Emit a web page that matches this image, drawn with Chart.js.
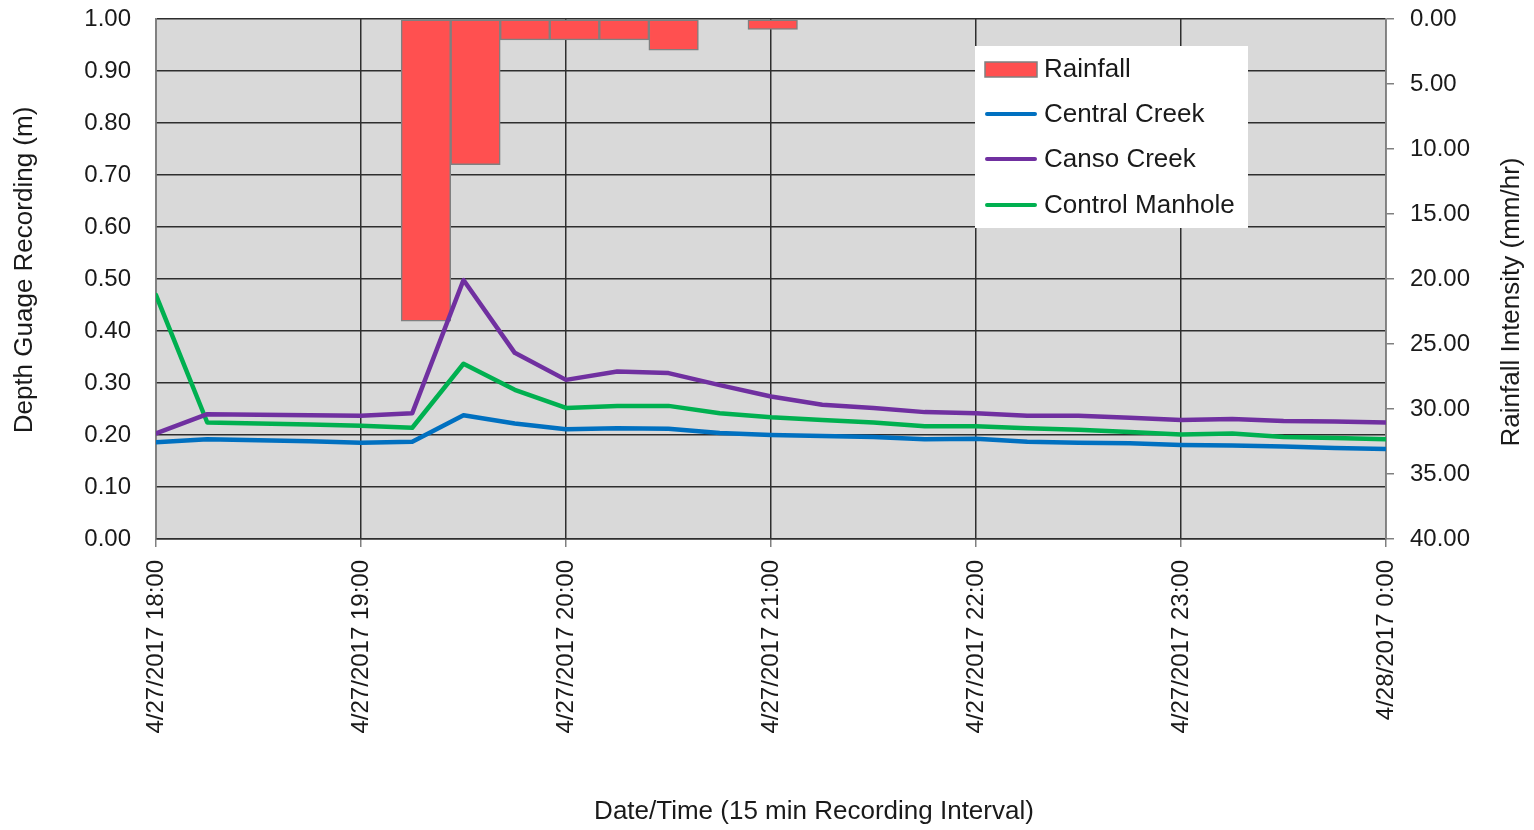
<!DOCTYPE html>
<html>
<head>
<meta charset="utf-8">
<script src="https://cdn.jsdelivr.net/npm/chart.js@4.4.1/dist/chart.umd.min.js"></script>
<style>
html,body{margin:0;padding:0;background:#ffffff;overflow:hidden}
canvas{display:block}
</style>
</head>
<body>
<canvas id="c" width="1534" height="830"></canvas>
<script>
// ---- data (minutes after 4/27/2017 18:00, 15 min recording interval) ----
const timeMinutes = [0,15,30,45,60,75,90,105,120,135,150,165,180,195,210,225,240,255,270,285,300,315,330,345,360];
const centralCreek = [0.186,0.192,0.190,0.188,0.185,0.187,0.238,0.222,0.211,0.213,0.212,0.204,0.200,0.198,0.196,0.192,0.193,0.187,0.185,0.184,0.181,0.180,0.178,0.175,0.173];
const cansoCreek = [0.203,0.240,0.239,0.238,0.237,0.242,0.498,0.358,0.306,0.322,0.319,0.296,0.274,0.258,0.252,0.244,0.242,0.237,0.237,0.233,0.229,0.231,0.227,0.226,0.224];
const controlManhole = [0.469,0.224,0.222,0.220,0.218,0.214,0.337,0.287,0.252,0.256,0.256,0.242,0.234,0.229,0.224,0.217,0.217,0.213,0.210,0.206,0.201,0.203,0.196,0.194,0.192];
const rainTimes = [79,93.5,108,122.5,137,151.5,180.5];
const rainIntensity = [23.25,11.2,1.6,1.6,1.6,2.4,0.8];
const xTickLabels = ['4/27/2017 18:00','4/27/2017 19:00','4/27/2017 20:00','4/27/2017 21:00','4/27/2017 22:00','4/27/2017 23:00','4/28/2017 0:00'];
const seriesLabels = ['Rainfall','Central Creek','Canso Creek','Control Manhole'];
const leftTitle = 'Depth Guage Recording (m)';
const rightTitle = 'Rainfall Intensity (mm/hr)';
const bottomTitle = 'Date/Time (15 min Recording Interval)';

const FONT = "'Liberation Sans', Arial, sans-serif";
Chart.defaults.font.family = FONT;
Chart.defaults.color = '#1a1a1a';

const pts = (xs, ys) => xs.map((x, i) => ({x: x, y: ys[i]}));

const plotBg = {
  id: 'plotBg',
  beforeDraw(chart) {
    const a = chart.chartArea, c = chart.ctx;
    c.save();
    c.fillStyle = '#d9d9d9';
    c.fillRect(a.left, a.top, a.right - a.left, a.bottom - a.top);
    c.restore();
  }
};

const titles = {
  id: 'titles',
  afterDraw(chart) {
    const c = chart.ctx;
    c.save();
    c.fillStyle = '#1a1a1a';
    c.font = '26px ' + FONT;
    c.textAlign = 'center';
    c.textBaseline = 'middle';
    c.save(); c.translate(25, 270); c.rotate(-Math.PI / 2); c.fillText(leftTitle, 0, 0); c.restore();
    c.save(); c.translate(1512, 302); c.rotate(-Math.PI / 2); c.fillText(rightTitle, 0, 0); c.restore();
    c.fillText(bottomTitle, 814, 812);
    c.restore();
  }
};

const boxLegend = {
  id: 'boxLegend',
  afterDraw(chart) {
    const c = chart.ctx;
    c.save();
    c.fillStyle = '#ffffff';
    c.fillRect(975, 46, 273, 182);
    const rows = [69, 114, 159, 205];
    chart.data.datasets.forEach((ds, i) => {
      const y = rows[i];
      if (ds.type === 'bar') {
        c.fillStyle = ds.backgroundColor;
        c.fillRect(985, y - 7, 52, 15);
        c.strokeStyle = ds.borderColor;
        c.lineWidth = 1.5;
        c.strokeRect(985, y - 7, 52, 15);
      } else {
        c.strokeStyle = ds.borderColor;
        c.lineWidth = 4;
        c.lineCap = 'round';
        c.beginPath(); c.moveTo(987, y); c.lineTo(1035, y); c.stroke();
      }
      c.fillStyle = '#1a1a1a';
      c.font = '26px ' + FONT;
      c.textAlign = 'left';
      c.textBaseline = 'middle';
      c.fillText(ds.label, 1044, y + 1);
    });
    c.restore();
  }
};

const zeroPad = s => { s.paddingTop = 0; s.paddingBottom = 0; s.paddingLeft = 0; s.paddingRight = 0; };

const lineDs = (label, ys, color) => ({
  type: 'line', label: label, data: pts(timeMinutes, ys),
  borderColor: color, backgroundColor: color, borderWidth: 4.5,
  pointRadius: 0, tension: 0, borderJoinStyle: 'round', borderCapStyle: 'round',
  xAxisID: 'x', yAxisID: 'y', order: 1
});

new Chart(document.getElementById('c').getContext('2d'), {
  data: {
    datasets: [
      {
        type: 'bar', label: seriesLabels[0], data: pts(rainTimes, rainIntensity),
        backgroundColor: '#ff5050', borderColor: '#808080', borderWidth: 1.5,
        borderSkipped: false, barPercentage: 1, categoryPercentage: 1,
        xAxisID: 'x', yAxisID: 'y2', order: 2
      },
      lineDs(seriesLabels[1], centralCreek, '#0070c0'),
      lineDs(seriesLabels[2], cansoCreek, '#7030a0'),
      lineDs(seriesLabels[3], controlManhole, '#00b050')
    ]
  },
  options: {
    responsive: false,
    animation: false,
    devicePixelRatio: 1,
    layout: {padding: {top: 19, left: 0, right: 0, bottom: 0}},
    plugins: {legend: {display: false}, tooltip: {enabled: false}},
    scales: {
      x: {
        type: 'linear', position: 'bottom', min: 0, max: 360, offset: false,
        ticks: {
          stepSize: 60, autoSkip: false, minRotation: 90, maxRotation: 90, padding: 13,
          font: {size: 24}, color: '#1a1a1a',
          callback: (v, i) => xTickLabels[i]
        },
        grid: {offset: false, color: '#2e2e2e', lineWidth: 1.5, drawTicks: true, tickLength: 8, tickColor: '#808080'},
        border: {display: true, color: '#2e2e2e', width: 1.5},
        afterFit: s => { s.height = 291; zeroPad(s); }
      },
      y: {
        type: 'linear', position: 'left', min: 0, max: 1,
        ticks: {stepSize: 0.1, padding: 25, font: {size: 24}, color: '#1a1a1a', callback: v => Number(v).toFixed(2)},
        grid: {color: '#2e2e2e', lineWidth: 1.5, drawTicks: false},
        border: {display: true, color: '#808080', width: 1.5},
        afterFit: s => { s.width = 156; zeroPad(s); }
      },
      y2: {
        type: 'linear', position: 'right', min: 0, max: 40, reverse: true,
        ticks: {stepSize: 5, padding: 16, font: {size: 24}, color: '#1a1a1a', callback: v => Number(v).toFixed(2)},
        grid: {drawOnChartArea: false, drawTicks: true, tickLength: 8, tickColor: '#808080', lineWidth: 1.5},
        border: {display: true, color: '#808080', width: 1.5},
        afterFit: s => { s.width = 148; zeroPad(s); }
      }
    }
  },
  plugins: [plotBg, boxLegend, titles]
});
</script>
</body>
</html>
